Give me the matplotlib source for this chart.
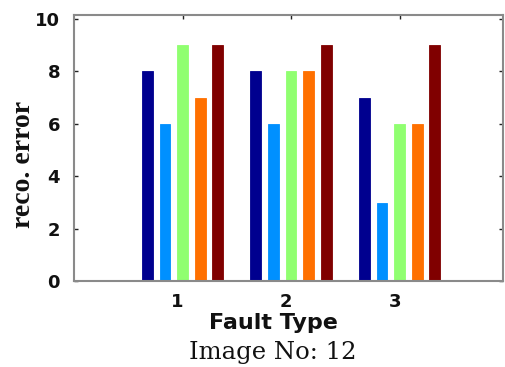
import matplotlib
matplotlib.use("Agg")
import matplotlib.pyplot as plt
import matplotlib.transforms as mtransforms
import numpy as np

# Reconstruction error per fault type, five methods per group
fault_types = [1, 2, 3]
series = [
    [8, 8, 7],   # method 1
    [6, 6, 3],   # method 2
    [9, 8, 6],   # method 3
    [7, 8, 6],   # method 4
    [9, 9, 9],   # method 5
]
colors = ["#00008f", "#0090ff", "#90ff70", "#ff7000", "#800000"]
yticks = [0, 2, 4, 6, 8, 10]

fig = plt.figure(figsize=(5.05, 3.67), dpi=100)
ax = fig.add_axes([0.1465, 0.233, 0.849, 0.726])

x = np.array(fault_types, dtype=float)
pitch = 0.162
width = 0.1
for i, (vals, c) in enumerate(zip(series, colors)):
    ax.bar(x + (i - 2) * pitch, vals, width=width, color=c,
           edgecolor=c, linewidth=0.6, zorder=2)

ax.set_xlim(0, 3.95)
ax.set_ylim(0, 10.15)
ax.set_xticks(fault_types)
ax.set_yticks(yticks)
ax.set_xticklabels([str(v) for v in fault_types])
ax.set_yticklabels([str(v) for v in yticks])

for sp in ax.spines.values():
    sp.set_color("#8a8a8a")
    sp.set_linewidth(1.5)

ax.tick_params(axis="both", direction="in", length=3, width=1,
               color="#222222", top=True, right=True)
ax.tick_params(axis="y", pad=10)
ax.tick_params(axis="x", pad=8)
for lab in ax.get_xticklabels() + ax.get_yticklabels():
    lab.set_fontfamily("DejaVu Sans")
    lab.set_fontweight("black")
    lab.set_fontsize(13)
    lab.set_color("#111111")

# nudge the category labels slightly left of their groups
shift = mtransforms.ScaledTranslation(-5 / 100, 0, fig.dpi_scale_trans)
for lab in ax.get_xticklabels():
    lab.set_transform(lab.get_transform() + shift)

fig.text(24 / 505, 1 - 164 / 367, "reco. error", rotation=90,
         ha="center", va="center", fontsize=20, fontweight="bold",
         family="Liberation Serif", color="#111111")
fig.text(273 / 505, 1 - 323 / 367, "Fault Type", ha="center", va="center",
         fontsize=16, fontweight="bold", family="DejaVu Sans",
         color="#111111")
fig.text(273 / 505, 1 - 353 / 367, "Image No: 12", ha="center",
         va="center", fontsize=17.5, family="DejaVu Serif",
         color="#111111")

fig.savefig("out.png", dpi=100)
